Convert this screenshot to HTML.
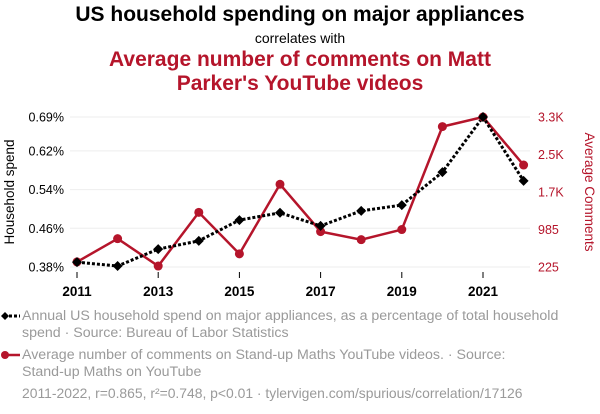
<!DOCTYPE html>
<html><head><meta charset="utf-8"><style>
body{margin:0;background:#fff;width:600px;height:414px;overflow:hidden;font-family:"Liberation Sans",sans-serif;}
.t{position:absolute;left:0;width:600px;text-align:center;}
.leg{position:absolute;left:22px;font-size:14.2px;color:#9a9a9a;line-height:17px;width:540px;}
.nw{white-space:nowrap;}
</style></head><body>
<div class="t" style="top:3px;font-size:21px;font-weight:bold;color:#000">US household spending on major appliances</div>
<div class="t" style="top:30px;font-size:14px;color:#000">correlates with</div>
<div class="t" style="top:48px;font-size:21px;font-weight:bold;color:#b5152b;line-height:24px">Average number of comments on Matt<br>Parker's YouTube videos</div>
<svg id="c" width="600" height="414" style="position:absolute;left:0;top:0"></svg>
<div class="leg" style="top:308px">Annual US household spend on major appliances, as a percentage of total household spend · Source: Bureau of Labor Statistics</div>
<div class="leg" style="top:347px">Average number of comments on <span class="nw">Stand-up</span> Maths YouTube videos. · Source: <span class="nw">Stand-up</span> Maths on YouTube</div>
<div class="leg" style="top:385px;width:580px;font-size:13.9px">2011-2022, r=0.865, r²=0.748, p&lt;0.01 · tylervigen.com/spurious/correlation/17126</div>
<script>
const years=[2011,2012,2013,2014,2015,2016,2017,2018,2019,2020,2021,2022];
const spend=[0.390,0.382,0.417,0.434,0.477,0.492,0.465,0.496,0.508,0.576,0.690,0.558];
const comments=[328,799,245,1312,492,1865,943,779,984,3095,3300,2275];
const leftTicks=[0.38,0.46,0.54,0.62,0.69];
const leftLabels=["0.38%","0.46%","0.54%","0.62%","0.69%"];
const rightTicks=[225,985,1700,2500,3300];
const rightLabels=["225","985","1.7K","2.5K","3.3K"];
const xTicks=[2011,2013,2015,2017,2019,2021];
const NS="http://www.w3.org/2000/svg";
const svg=document.getElementById('c');
const x=v=>77+(v-2011)*40.6;
const yL=v=>267-(v-0.38)/(0.69-0.38)*150;
const yR=v=>{const t=rightTicks;for(let i=0;i<t.length-1;i++){if(v<=t[i+1]||i==t.length-2){return 267-37.5*i-(v-t[i])/(t[i+1]-t[i])*37.5;}}};
function el(n,a){const e=document.createElementNS(NS,n);for(const k in a)e.setAttribute(k,a[k]);svg.appendChild(e);return e;}
leftTicks.forEach((t,i)=>{const y=yL(t);
const g=el('line',{x1:70,x2:530,y1:y,y2:y,stroke:'#eee','stroke-width':1});


const tx=el('text',{x:64,y:y+4.5,'text-anchor':'end','font-size':12.5,fill:'#000'});tx.textContent=leftLabels[i];

});
rightTicks.forEach((t,i)=>{const tx=el('text',{x:538,y:yR(t)+4.5,'font-size':12.5,fill:'#b5152b'});tx.textContent=rightLabels[i];

});
xTicks.forEach(t=>{const tx=el('text',{x:x(t),y:296,'text-anchor':'middle','font-size':13.5,'font-weight':'bold',fill:'#000'});tx.textContent=t;


const tk=el('line',{x1:x(t),x2:x(t),y1:272,y2:278,stroke:'#000'});

});
let yt=el('text',{x:0,y:0,transform:'translate(14,192) rotate(-90)','text-anchor':'middle','font-size':13.5,fill:'#000'});yt.textContent='Household spend';


let yt2=el('text',{x:0,y:0,transform:'translate(585,192) rotate(90)','text-anchor':'middle','font-size':13.5,fill:'#b5152b'});yt2.textContent='Average Comments';


const rl=el('polyline',{points:years.map((y,i)=>x(y)+','+yR(comments[i])).join(' '),fill:'none',stroke:'#b5152b','stroke-width':2.5});


const bl=el('polyline',{points:years.map((y,i)=>x(y)+','+yL(spend[i])).join(' '),fill:'none',stroke:'#000','stroke-width':3,'stroke-dasharray':'3,2'});


years.forEach((y,i)=>{const c=el('circle',{cx:x(y),cy:yR(comments[i]),r:4.5,fill:'#b5152b'});

});
years.forEach((y,i)=>{const cx=x(y),cy=yL(spend[i]);const d=el('polygon',{points:`${cx},${cy-5} ${cx+5},${cy} ${cx},${cy+5} ${cx-5},${cy}`,fill:'#000'});

});
const li1=el('line',{x1:4,x2:20,y1:316,y2:316,stroke:'#000','stroke-width':3,'stroke-dasharray':'3,2'});


el('polygon',{points:'5,312 9,316 5,320 1,316',fill:'#000'});
const li2=el('line',{x1:4,x2:20,y1:355,y2:355,stroke:'#b5152b','stroke-width':2.5});


el('circle',{cx:5,cy:355,r:4,fill:'#b5152b'});
</script>
</body></html>
